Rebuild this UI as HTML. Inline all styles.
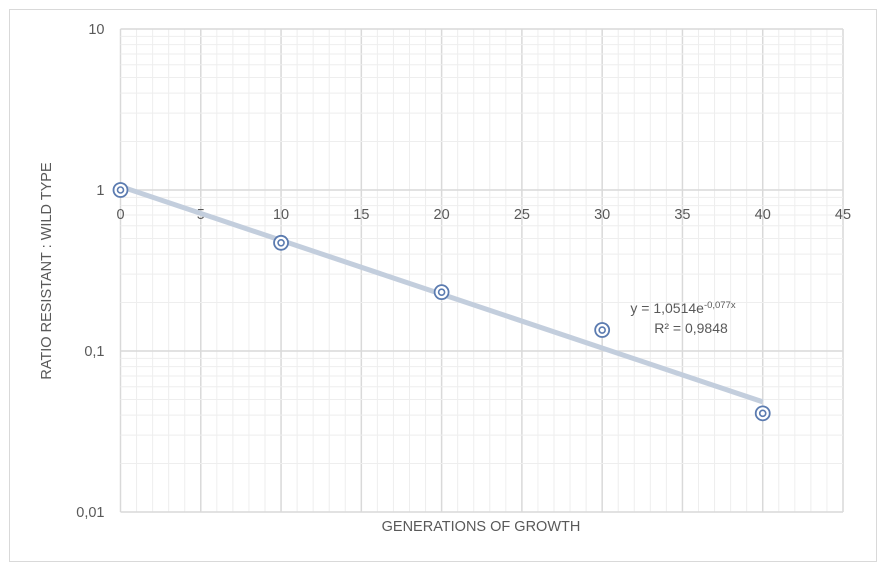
<!DOCTYPE html>
<html><head><meta charset="utf-8"><style>
html,body{margin:0;padding:0;background:#fff;}
svg{display:block;font-family:"Liberation Sans",sans-serif;}
</style></head><body>
<svg id="chart" width="882" height="569" viewBox="0 0 882 569" xmlns="http://www.w3.org/2000/svg">
<rect x="9.5" y="9.5" width="867" height="552" fill="#fff" stroke="#d9d9d9"/>
<g id="grid"></g><g id="axes"></g><g id="marks"></g>
<text x="481" y="531" font-size="14.5" fill="#595959" text-anchor="middle">GENERATIONS OF GROWTH</text>
<text transform="translate(51,271) rotate(-90)" font-size="14.5" fill="#595959" text-anchor="middle">RATIO RESISTANT : WILD TYPE</text>
<text x="683" y="313" font-size="14" fill="#595959" text-anchor="middle">y = 1,0514e<tspan font-size="9.5" dy="-5">-0,077x</tspan></text>
<text x="691" y="333" font-size="14" fill="#595959" text-anchor="middle">R² = 0,9848</text>
</svg>
<script>
const xValues=[0,10,20,30,40];
const yValues=[1,0.47,0.232,0.135,0.041];
const xTicks=[0,5,10,15,20,25,30,35,40,45];
const yTicks=[10,1,0.1,0.01];
const yTickLabels=["10","1","0,1","0,01"];
const trendA=1.0514, trendB=-0.077;
const NS="http://www.w3.org/2000/svg";
const L=120.5,R=843,T=29,B=512;
const sx=v=>L+(v/45)*(R-L);
const sy=v=>T+(1-Math.log10(v))*(B-T)/3;
function mk(p,tag,at){const e=document.createElementNS(NS,tag);for(const k in at)e.setAttribute(k,at[k]);p.appendChild(e);return e;}
const grid=document.getElementById('grid'),axes=document.getElementById('axes'),marks=document.getElementById('marks');
for(let i=0;i<=45;i++){const x=sx(i);const major=i%5===0;
 const l=mk(grid,'line',{x1:x,x2:x,y1:T,y2:B,stroke:major?'#d9d9d9':'#eeeeee','stroke-width':major?1.5:1});
 
 }
for(let d=-2;d<1;d++){for(let m=2;m<10;m++){const y=sy(m*Math.pow(10,d));
 const l=mk(grid,'line',{x1:L,x2:R,y1:y,y2:y,stroke:'#eeeeee','stroke-width':1});
 
 }}
yTicks.forEach((v,i)=>{const y=sy(v);
 const l=mk(grid,'line',{x1:L,x2:R,y1:y,y2:y,stroke:'#d9d9d9','stroke-width':1.5});
 
 
 const t=mk(axes,'text',{x:L-16,y:y+5,'font-size':14.5,fill:'#595959','text-anchor':'end'});t.textContent=yTickLabels[i];
 
 });
xTicks.forEach(v=>{const t=mk(axes,'text',{x:sx(v),y:sy(1)+29,'font-size':14.5,fill:'#595959','text-anchor':'middle'});t.textContent=v;
 
 });
const tl=mk(marks,'line',{x1:sx(0),y1:sy(trendA),x2:sx(40),y2:sy(trendA*Math.exp(trendB*40)),stroke:'#c3cedd','stroke-width':5});


xValues.forEach((v,i)=>{const cx=sx(v),cy=sy(yValues[i]);
 const g=mk(marks,'g',{});
 
 
 mk(g,'circle',{cx,cy,r:7,fill:'#fff',stroke:'#5b7bb0','stroke-width':1.8});
 mk(g,'circle',{cx,cy,r:3,fill:'none',stroke:'#5b7bb0','stroke-width':1.6});});
</script>
</body></html>
